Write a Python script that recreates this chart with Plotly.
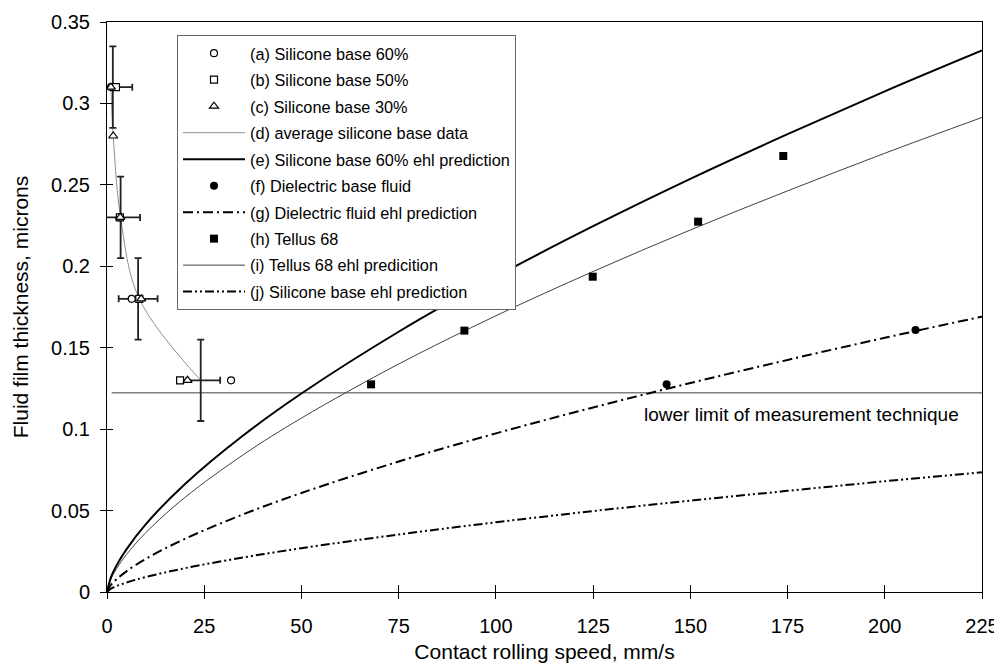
import plotly.graph_objects as go

# ---------------- data ----------------
# (a) Silicone base 60%
a_x = [1.0, 3.3, 6.35, 31.9]
a_y = [0.31, 0.23, 0.18, 0.13]
# (b) Silicone base 50%
b_x = [2.3, 3.3, 8.3, 18.8]
b_y = [0.31, 0.23, 0.18, 0.13]
# (c) Silicone base 30%
c_x = [1.0, 1.6, 3.4, 8.8, 20.7]
c_y = [0.31, 0.28, 0.23, 0.18, 0.13]
# (d) average silicone base data
d_x = [1.0, 1.6, 3.5, 8.3, 24.1]
d_y = [0.31, 0.28, 0.23, 0.18, 0.13]
# error bars on averaged data
err_x = [1.5, 3.5, 8.0, 24.1]
err_y = [0.31, 0.23, 0.18, 0.13]
err_dx = [5, 5, 5, 5]
err_dy = [0.025, 0.025, 0.025, 0.025]

# prediction curves
curve_x = [0, 1, 2.5, 5, 10, 20, 35, 50, 75, 100, 125, 150, 175, 200, 225]
e_y = [0, 0.0090, 0.0165, 0.0262, 0.0417, 0.0662, 0.0961, 0.1219, 0.1598,
       0.1936, 0.2246, 0.2537, 0.2811, 0.3074, 0.3325]
g_y = [0, 0.0043, 0.0079, 0.0127, 0.0204, 0.0326, 0.0477, 0.0608, 0.0801,
       0.0974, 0.1133, 0.1283, 0.1425, 0.1561, 0.1691]
i_y = [0, 0.0079, 0.0145, 0.0230, 0.0365, 0.0580, 0.0842, 0.1068, 0.1400,
       0.1696, 0.1968, 0.2223, 0.2463, 0.2694, 0.2914]
j_y = [0, 0.0020, 0.0037, 0.0058, 0.0092, 0.0146, 0.0212, 0.0269, 0.0353,
       0.0428, 0.0497, 0.0561, 0.0621, 0.0680, 0.0735]

# (f) Dielectric base fluid
f_x = [143.9, 207.9]
f_y = [0.1275, 0.1609]
# (h) Tellus 68
h_x = [67.9, 91.9, 124.9, 152.0, 173.9]
h_y = [0.1275, 0.1605, 0.1936, 0.2274, 0.2677]

# lower limit of measurement technique
limit_x = [1.2, 225]
limit_y = [0.1224, 0.1224]

names = [
    "(a) Silicone base 60%",
    "(b) Silicone base 50%",
    "(c) Silicone base 30%",
    "(d) average silicone base data",
    "(e) Silicone base 60% ehl prediction",
    "(f) Dielectric base fluid",
    "(g) Dielectric fluid ehl prediction",
    "(h) Tellus 68",
    "(i) Tellus 68 ehl predicition",
    "(j) Silicone base ehl prediction",
]

x_ticks = [0, 25, 50, 75, 100, 125, 150, 175, 200, 225]
y_ticks = [0, 0.05, 0.1, 0.15, 0.2, 0.25, 0.3, 0.35]
y_tick_text = ["0", "0.05", "0.1", "0.15", "0.2", "0.25", "0.3", "0.35"]

FONT = "Arial, Liberation Sans, sans-serif"

fig = go.Figure()

# limit line
fig.add_trace(go.Scatter(x=limit_x, y=limit_y, mode="lines",
                         line=dict(color="#808080", width=1.5),
                         showlegend=False, hoverinfo="skip"))

# curves
fig.add_trace(go.Scatter(x=curve_x, y=j_y, mode="lines", name=names[9],
                         line=dict(color="black", width=2, shape="spline",
                                   dash="9px,3px,2px,3px,2px,3px"),
                         legendrank=10, legendgroup="j"))
fig.add_trace(go.Scatter(x=curve_x, y=g_y, mode="lines", name=names[6],
                         line=dict(color="black", width=2, shape="spline",
                                   dash="10px,4px,2px,4px"),
                         legendrank=7, legendgroup="g"))
fig.add_trace(go.Scatter(x=curve_x, y=i_y, mode="lines", name=names[8],
                         line=dict(color="#404040", width=1, shape="spline"),
                         legendrank=9, legendgroup="i"))
fig.add_trace(go.Scatter(x=curve_x, y=e_y, mode="lines", name=names[4],
                         line=dict(color="black", width=2, shape="spline"),
                         legendrank=5, legendgroup="e"))
fig.add_trace(go.Scatter(x=d_x, y=d_y, mode="lines", name=names[3],
                         line=dict(color="#909090", width=1, shape="spline"),
                         legendrank=4, legendgroup="d"))

# error bars
fig.add_trace(go.Scatter(x=err_x, y=err_y, mode="markers",
                         marker=dict(size=1, opacity=0),
                         error_x=dict(type="data", array=err_dx, color="#222222",
                                      thickness=1.8, width=3.5),
                         error_y=dict(type="data", array=err_dy, color="#222222",
                                      thickness=1.8, width=3.5),
                         showlegend=False, hoverinfo="skip"))

# markers
open_marker = dict(color="white", size=7, line=dict(color="black", width=1.2))
fig.add_trace(go.Scatter(x=a_x, y=a_y, mode="markers", name=names[0],
                         marker=dict(symbol="circle", **open_marker),
                         legendrank=1, legendgroup="a"))
fig.add_trace(go.Scatter(x=b_x, y=b_y, mode="markers", name=names[1],
                         marker=dict(symbol="square", **open_marker),
                         legendrank=2, legendgroup="b"))
fig.add_trace(go.Scatter(x=c_x, y=c_y, mode="markers", name=names[2],
                         marker=dict(symbol="triangle-up", color="white", size=8,
                                     line=dict(color="black", width=1.2)),
                         legendrank=3, legendgroup="c"))
fig.add_trace(go.Scatter(x=f_x, y=f_y, mode="markers", name=names[5],
                         marker=dict(symbol="circle", color="black", size=8),
                         legendrank=6, legendgroup="f"))
fig.add_trace(go.Scatter(x=h_x, y=h_y, mode="markers", name=names[7],
                         marker=dict(symbol="square", color="black", size=8),
                         legendrank=8, legendgroup="h"))

# dummy trace for overlay tick axes
fig.add_trace(go.Scatter(x=[None], y=[None], xaxis="x2", yaxis="y2",
                         showlegend=False, hoverinfo="skip"))

fig.add_annotation(x=178.5, y=0.1087, text="lower limit of measurement technique",
                   showarrow=False, font=dict(family=FONT, size=19, color="black"))

# page body adds an 8px offset, so the figure is sized to fit the window
fig.update_layout(
    width=994, height=657,
    margin=dict(l=99, r=20, t=14, b=73, autoexpand=False),
    paper_bgcolor="white", plot_bgcolor="white",
    font=dict(family=FONT, color="black"),
    showlegend=True,
    legend=dict(x=0.08, y=0.977, xanchor="left", yanchor="top",
                bgcolor="white", bordercolor="#666666", borderwidth=1,
                font=dict(family=FONT, size=16.3, color="black"),
                itemwidth=62, entrywidth=350,
                traceorder="grouped", tracegroupgap=2.3),
    xaxis=dict(range=[0, 225], tickvals=x_ticks, ticks="outside", ticklen=6,
               tickcolor="black", showline=True, linecolor="black", linewidth=1,
               mirror=True, showgrid=False, zeroline=False, automargin=False,
               ticklabelstandoff=10,
               tickfont=dict(family=FONT, size=20),
               title=dict(text="Contact rolling speed, mm/s",
                          font=dict(family=FONT, size=21), standoff=8)),
    yaxis=dict(range=[0, 0.35], tickvals=y_ticks, ticktext=y_tick_text,
               ticks="outside", ticklen=6, tickcolor="black",
               showline=True, linecolor="black", linewidth=1, mirror=True,
               showgrid=False, zeroline=False, automargin=False,
               ticklabelstandoff=6,
               tickfont=dict(family=FONT, size=20),
               title=dict(text="Fluid film thickness, microns",
                          font=dict(family=FONT, size=21), standoff=16)),
    xaxis2=dict(overlaying="x", anchor="y", range=[0, 225], tickvals=x_ticks,
                ticks="inside", ticklen=7, tickcolor="black", automargin=False,
                showticklabels=False, showline=False, showgrid=False, zeroline=False),
    yaxis2=dict(overlaying="y", anchor="x", side="left", range=[0, 0.35],
                tickvals=y_ticks, ticks="inside", ticklen=6, tickcolor="black",
                automargin=False,
                showticklabels=False, showline=False, showgrid=False, zeroline=False),
)

fig.write_html("out.html")
